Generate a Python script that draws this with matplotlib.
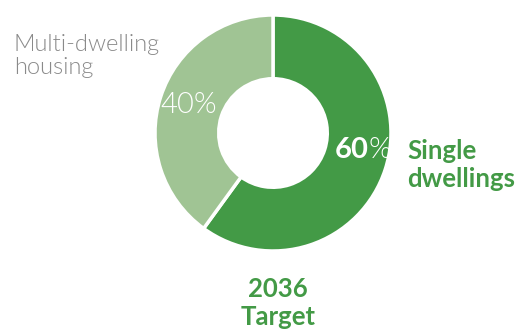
import matplotlib
matplotlib.use("Agg")
import matplotlib.pyplot as plt

categories = ["Single dwellings", "Multi-dwelling housing"]
values = [60, 40]
colors = ["#439a46", "#a0c494"]
pct_labels = ["60", "40"]

W, H = 521, 329
fig = plt.figure(figsize=(W/100, H/100), dpi=100)
ax = fig.add_axes([0, 0, 1, 1])
ax.set_xlim(0, W)
ax.set_ylim(0, H)
ax.set_aspect("equal")
ax.axis("off")

cx, cy, R = 273, H - 133, 118
ax.pie(values, colors=colors, startangle=90, counterclock=False,
       center=(cx, cy), radius=R,
       wedgeprops=dict(width=R * 0.54, edgecolor="white", linewidth=2.5))
ax.set_xlim(0, W)
ax.set_ylim(0, H)

font = "Lato"
green = "#439a46"
grey = "#8a8a8a"

# 60% label
ax.text(369, H - 150, pct_labels[0], color="white", fontsize=21, fontweight="bold",
        family=font, ha="right", va="center")
ax.text(369, H - 150, "%", color="white", fontsize=21, fontweight=300,
        family=font, ha="left", va="center")
# 40% label
ax.text(189, H - 105, pct_labels[1] + "%", color="white", fontsize=21, fontweight=300,
        family=font, ha="center", va="center")

ax.text(407, H - 165, "Single\ndwellings", color=green, fontsize=18.5,
        fontweight="bold", family=font, ha="left", va="center", linespacing=1.2)
ax.text(14, H - 56, "Multi-dwelling\nhousing", color=grey, fontsize=17,
        fontweight=300, family=font, ha="left", va="center", linespacing=1.15)
ax.text(278, H - 303, "2036\nTarget", color=green, fontsize=18.5,
        fontweight="bold", family=font, ha="center", va="center", linespacing=1.2)

fig.savefig("out.png", dpi=100)
